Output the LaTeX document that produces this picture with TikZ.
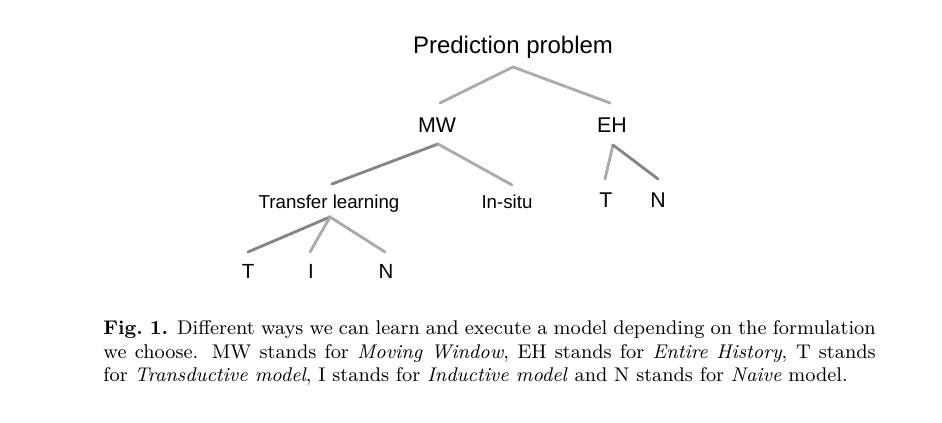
\documentclass[tikz,border=0pt]{standalone}
\usepackage{fontspec}
\newfontfamily\treefont{Liberation Sans}
\begin{document}
\begin{tikzpicture}[x=0.4545pt,y=-0.4545pt,
  lbl/.style={inner sep=0pt, anchor=base, font=\treefont},
  big/.style={lbl, font=\treefont\fontsize{10.9pt}{12pt}\selectfont},
  mid/.style={lbl, font=\treefont\fontsize{9.7pt}{11pt}\selectfont},
  sml/.style={lbl, font=\treefont\fontsize{8.5pt}{10pt}\selectfont},
  leaf/.style={lbl, font=\treefont\fontsize{9.3pt}{10pt}\selectfont},
  edge/.style={draw=black!33, line width=1.3pt, line cap=round},
  edged/.style={draw=black!48, line width=1.3pt, line cap=round}]
\useasboundingbox (0,0) rectangle (942,423);
% labels
\node[big] (pp) at (513,54) {Prediction problem};
\node[mid] (mw) at (437,133) {MW};
\node[mid] (eh) at (612,133) {EH};
\node[sml] (tl) at (329,209) {Transfer learning};
\node[sml] (is) at (507,209) {In-situ};
\node[mid] (et) at (606,208) {T};
\node[mid] (en) at (658,208) {N};
\node[leaf] (bt) at (248,279) {T};
\node[leaf] (bi) at (311,279) {I};
\node[leaf] (bn) at (386,279) {N};
% connector anchor points
\coordinate (ppA) at (513,67);
\coordinate (mwT) at (440,103);
\coordinate (ehT) at (610,103);
\coordinate (mwA) at (438,144);
\coordinate (tlT) at (332,184);
\coordinate (isT) at (512,185);
\coordinate (ehA) at (613,145);
\coordinate (etT) at (605,179);
\coordinate (enT) at (658,179);
\coordinate (tlA) at (330,217);
\coordinate (btT) at (248,252);
\coordinate (biT) at (310,252);
\coordinate (bnT) at (385,252);
% connectors
\draw[edge] (mwT) -- (ppA) -- (ehT);
\draw[edged] (tlT) -- (mwA);
\draw[edge] (mwA) -- (isT);
\draw[edge] (etT) -- (ehA);
\draw[edged] (ehA) -- (enT);
\draw[edged] (btT) -- (tlA);
\draw[edge] (biT) -- (tlA) -- (bnT);
% caption
\node[inner sep=0pt, anchor=north west] (cap) at (103,320) {\begin{minipage}{351pt}\fontsize{9pt}{10.8pt}\selectfont
\textbf{Fig.~1.} Different ways we can learn and execute a model depending on the formulation\linebreak
we choose. MW stands for \textit{Moving Window}, EH stands for \textit{Entire History}, T stands\linebreak
for \textit{Transductive model}, I stands for \textit{Inductive model} and N stands for \textit{Naive} model.
\end{minipage}};
\end{tikzpicture}
\end{document}
